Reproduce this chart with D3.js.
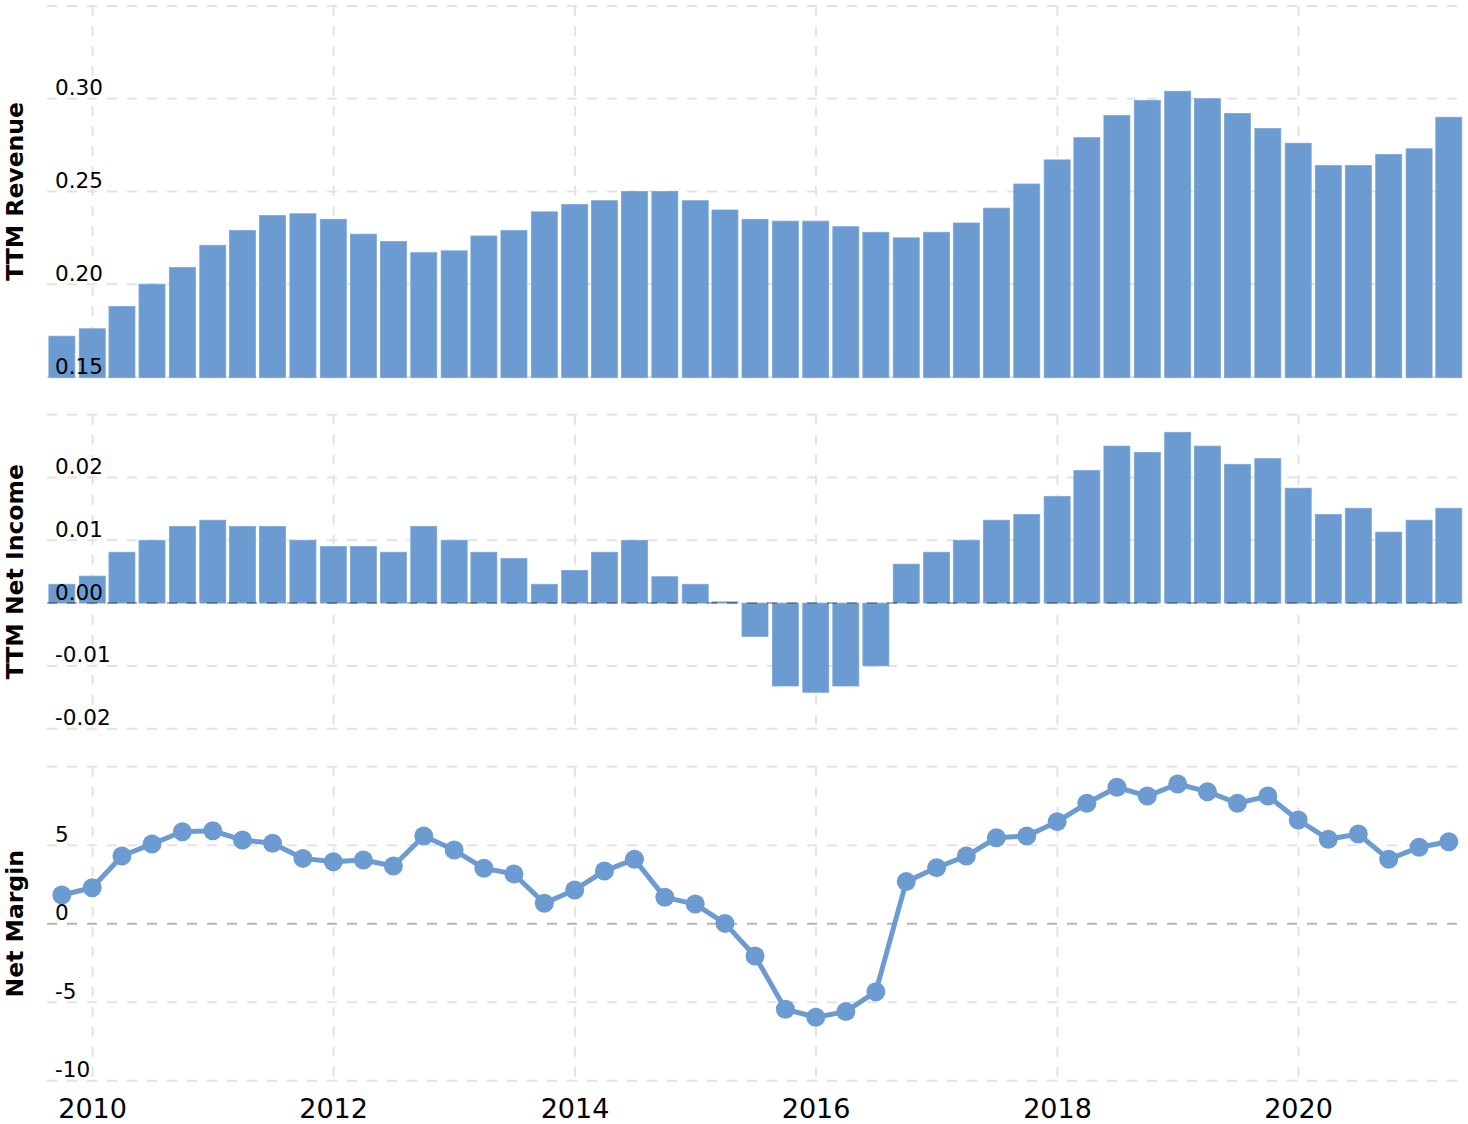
<!DOCTYPE html>
<html>
<head>
<meta charset="utf-8">
<script src="https://cdn.jsdelivr.net/npm/d3@7"></script>
<style>
  html, body { margin: 0; padding: 0; background: #fff; }
  svg { display: block; font-family: "DejaVu Sans", Verdana, sans-serif; }
</style>
</head>
<body>
<svg id="chart" width="1468" height="1124"></svg>
<script>
const dates = [
  "2009-09-30","2009-12-31","2010-03-31","2010-06-30","2010-09-30","2010-12-31",
  "2011-03-31","2011-06-30","2011-09-30","2011-12-31","2012-03-31","2012-06-30",
  "2012-09-30","2012-12-31","2013-03-31","2013-06-30","2013-09-30","2013-12-31",
  "2014-03-31","2014-06-30","2014-09-30","2014-12-31","2015-03-31","2015-06-30",
  "2015-09-30","2015-12-31","2016-03-31","2016-06-30","2016-09-30","2016-12-31",
  "2017-03-31","2017-06-30","2017-09-30","2017-12-31","2018-03-31","2018-06-30",
  "2018-09-30","2018-12-31","2019-03-31","2019-06-30","2019-09-30","2019-12-31",
  "2020-03-31","2020-06-30","2020-09-30","2020-12-31","2021-03-31"
];
const revenue = [
  0.172,0.176,0.188,0.200,0.209,0.221,0.229,0.237,0.238,0.235,0.227,0.223,
  0.217,0.218,0.226,0.229,0.239,0.243,0.245,0.250,0.250,0.245,0.240,0.235,
  0.234,0.234,0.231,0.228,0.225,0.228,0.233,0.241,0.254,0.267,0.279,0.291,
  0.299,0.304,0.300,0.292,0.284,0.276,0.264,0.264,0.270,0.273,0.290
];
const netIncome = [
  0.0030,0.0043,0.0081,0.0100,0.0122,0.0132,0.0122,0.0122,0.0100,0.0090,0.0090,0.0081,
  0.0122,0.0100,0.0081,0.0071,0.0030,0.0052,0.0081,0.0100,0.0042,0.0030,0.0002,-0.0053,
  -0.0132,-0.0142,-0.0132,-0.0100,0.0062,0.0081,0.0100,0.0132,0.0141,0.0170,0.0211,0.0250,
  0.0240,0.0272,0.0250,0.0221,0.0230,0.0183,0.0141,0.0151,0.0113,0.0132,0.0151
];
const netMargin = [
  1.83,2.29,4.31,5.08,5.86,5.92,5.33,5.12,4.16,3.95,4.06,3.68,
  5.59,4.69,3.53,3.17,1.30,2.15,3.36,4.10,1.68,1.25,0.02,-2.06,
  -5.45,-5.96,-5.60,-4.33,2.68,3.57,4.31,5.48,5.59,6.50,7.67,8.69,
  8.13,8.90,8.41,7.67,8.13,6.61,5.38,5.71,4.10,4.87,5.22
];
const yearTicks = ["2010","2012","2014","2016","2018","2020"];
const revenueTicks = [0.15, 0.20, 0.25, 0.30, 0.35];
const revenueTickLabels = ["0.15","0.20","0.25","0.30",""];
const incomeTicks = [-0.02, -0.01, 0.00, 0.01, 0.02, 0.03];
const incomeTickLabels = ["-0.02","-0.01","0.00","0.01","0.02",""];
const marginTicks = [-10, -5, 0, 5, 10];
const marginTickLabels = ["-10","-5","0","5",""];
const panelTitles = ["TTM Revenue","TTM Net Income","Net Margin"];

const BLUE = "#6b9bd1";
const GRID = "#e3e3e3";
const svg = d3.select("#chart");
const parse = d3.timeParse("%Y-%m-%d");
const dateObjs = dates.map(parse);

const left = 47, right = 1463;
const x = d3.scaleTime()
  .domain([new Date(2009, 7, 16), new Date(2021, 4, 13)])
  .range([left, right]);
const barW = 26;

const panels = [
  { y: d3.scaleLinear().domain([0.15, 0.35]).range([377, 5.9]), ticks: revenueTicks, labels: revenueTickLabels, title: panelTitles[0] },
  { y: d3.scaleLinear().domain([-0.02, 0.03]).range([728.7, 414.7]), ticks: incomeTicks, labels: incomeTickLabels, title: panelTitles[1] },
  { y: d3.scaleLinear().domain([-10, 10]).range([1080.7, 766.7]), ticks: marginTicks, labels: marginTickLabels, title: panelTitles[2] }
];

// grids
panels.forEach((p, i) => {
  const g = svg.append("g");
  const [y0, y1] = p.y.range();
  g.selectAll("line.v").data(yearTicks).join("line")
    .attr("x1", d => x(parse(d + "-01-01"))).attr("x2", d => x(parse(d + "-01-01")))
    .attr("y1", y1).attr("y2", y0)
    .attr("stroke", GRID).attr("stroke-width", 2).attr("stroke-dasharray", "10,10");
  g.selectAll("line.h").data(p.ticks.filter(t => !(i > 0 && t === 0))).join("line")
    .attr("x1", left).attr("x2", right)
    .attr("y1", d => p.y(d)).attr("y2", d => p.y(d))
    .attr("stroke", GRID).attr("stroke-width", 2).attr("stroke-dasharray", "10,10");
});

// Panel 1 bars
const p1 = panels[0];
svg.append("g").selectAll("rect").data(revenue).join("rect")
  .attr("x", (d, i) => x(dateObjs[i]) - barW / 2)
  .attr("width", barW)
  .attr("y", d => p1.y(d))
  .attr("height", d => p1.y(0.15) - p1.y(d) + 0.7)
  .attr("fill", BLUE).attr("stroke", "#7aa6d8").attr("stroke-width", 0.8);

// Panel 2 bars
const p2 = panels[1];
svg.append("g").selectAll("rect").data(netIncome).join("rect")
  .attr("x", (d, i) => x(dateObjs[i]) - barW / 2)
  .attr("width", barW)
  .attr("y", d => Math.min(p2.y(d), p2.y(0)))
  .attr("height", d => Math.max(1, Math.abs(p2.y(d) - p2.y(0))))
  .attr("fill", BLUE).attr("stroke", "#7aa6d8").attr("stroke-width", 0.8);
svg.append("line")
  .attr("x1", left).attr("x2", right).attr("y1", p2.y(0)).attr("y2", p2.y(0))
  .attr("stroke", "rgba(0,0,0,0.3)").attr("stroke-width", 2).attr("stroke-dasharray", "10,10");

// Panel 3 line
const p3 = panels[2];
svg.append("line")
  .attr("x1", left).attr("x2", right).attr("y1", p3.y(0)).attr("y2", p3.y(0))
  .attr("stroke", "#b3b3b3").attr("stroke-width", 2).attr("stroke-dasharray", "10,10");
const line = d3.line().x((d, i) => x(dateObjs[i])).y(d => p3.y(d));
svg.append("path").datum(netMargin)
  .attr("d", line).attr("fill", "none").attr("stroke", BLUE)
  .attr("stroke-width", 5).attr("stroke-linejoin", "round");
svg.append("g").selectAll("circle").data(netMargin).join("circle")
  .attr("cx", (d, i) => x(dateObjs[i])).attr("cy", d => p3.y(d))
  .attr("r", 9.5).attr("fill", BLUE);

// tick labels and titles
panels.forEach(p => {
  svg.append("g").selectAll("text").data(p.ticks).join("text")
    .attr("x", 55).attr("y", d => p.y(d) - 3.5)
    .attr("font-size", 21.5).attr("fill", "#000")
    .text((d, i) => p.labels[i]);
  const [y0, y1] = p.y.range();
  svg.append("text")
    .attr("transform", `translate(23,${(y0 + y1) / 2}) rotate(-90)`)
    .attr("text-anchor", "middle").attr("font-size", 23.5).attr("font-weight", "bold")
    .attr("fill", "#000").text(p.title);
});

svg.append("g").selectAll("text").data(yearTicks).join("text")
  .attr("x", d => x(parse(d + "-01-01"))).attr("y", 1118)
  .attr("text-anchor", "middle").attr("font-size", 27).attr("fill", "#000")
  .text(d => d);
</script>
</body>
</html>
